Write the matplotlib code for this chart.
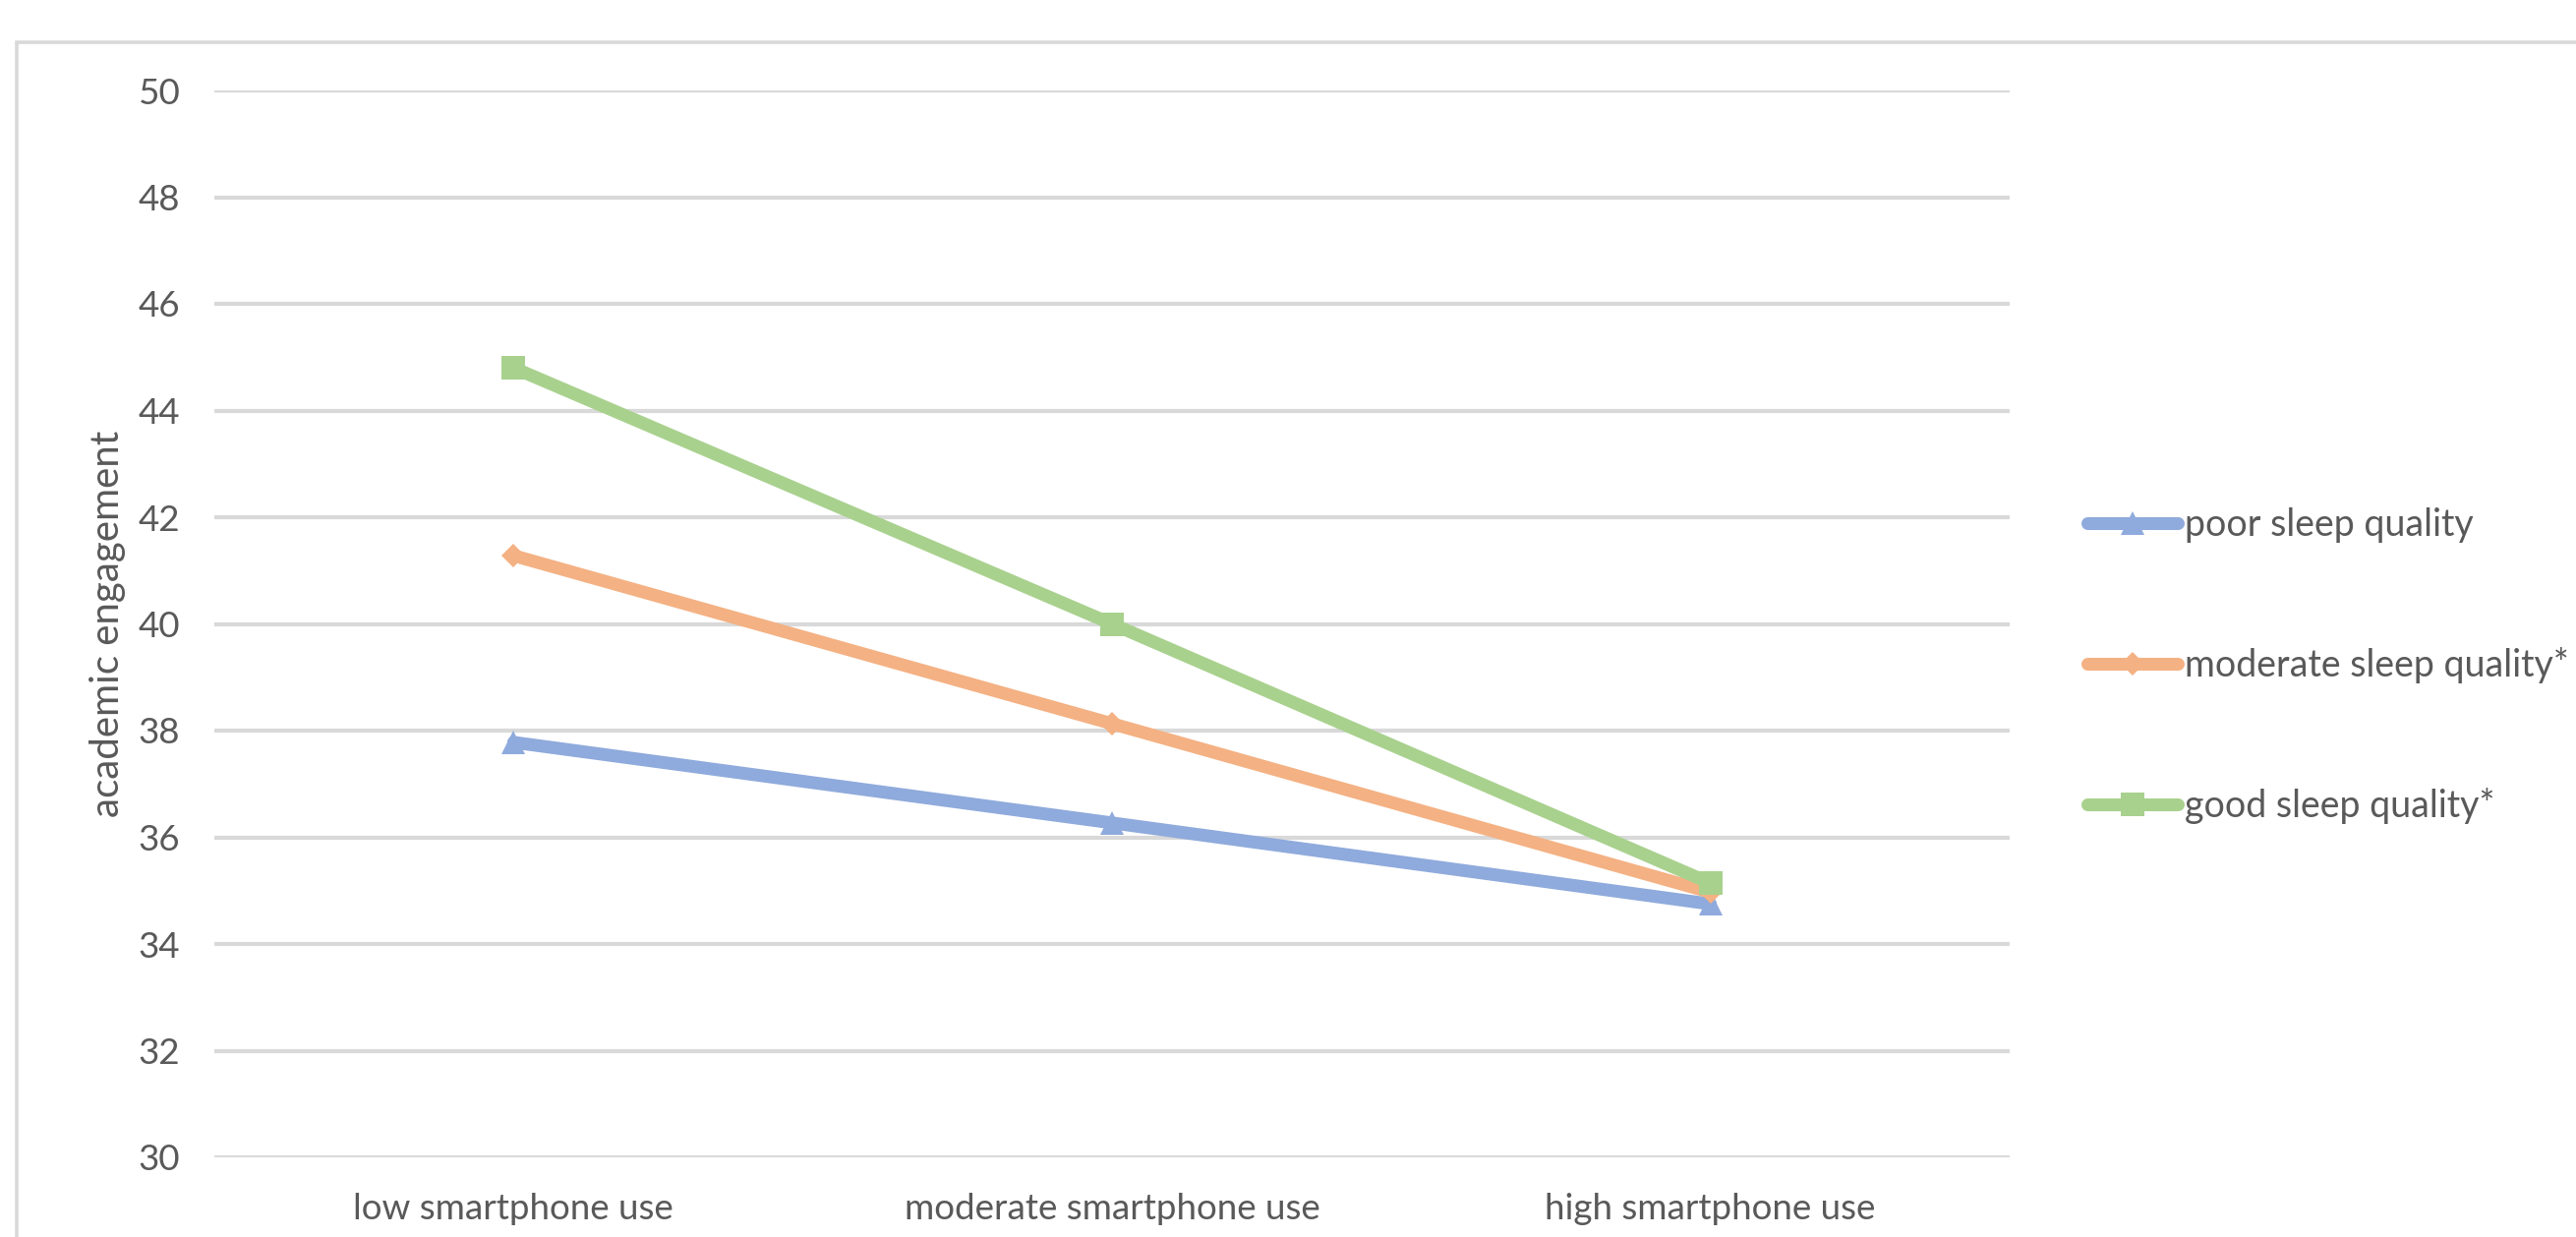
import matplotlib
matplotlib.use('Agg')
import matplotlib.pyplot as plt
from matplotlib.patches import Rectangle

plt.rcParams['font.family'] = ['Lato', 'DejaVu Sans']

# data
categories = ['low smartphone use', 'moderate smartphone use', 'high smartphone use']
poor_sleep = [37.78, 36.27, 34.75]
moderate_sleep = [41.28, 38.13, 34.97]
good_sleep = [44.80, 40.00, 35.14]
series_names = ['poor sleep quality', 'moderate sleep quality*', 'good sleep quality*']
y_ticks = [30, 32, 34, 36, 38, 40, 42, 44, 46, 48, 50]

W, H = 2620, 1258
fig = plt.figure(figsize=(W / 100, H / 100), dpi=100)

# outer chart frame (only top and left edges are inside the canvas)
fig.patches.append(Rectangle((17 / W, -0.5), 2.0, 0.5 + (1 - 43 / H),
                             transform=fig.transFigure, fill=False,
                             edgecolor='#d9d9d9', linewidth=2.6, zorder=0))

ax = fig.add_axes([218 / W, 81 / H, (2044 - 218) / W, (1177 - 92) / H])
x = list(range(len(categories)))

styles = [
    (poor_sleep, '#8faadc', '^', 17.0),
    (moderate_sleep, '#f4b183', 'D', 12.5),
    (good_sleep, '#a9d18e', 's', 17.5),
]
for (vals, col, mk, ms), name in zip(styles, series_names):
    ax.plot(x, vals, color=col, linewidth=9.4, marker=mk, markersize=ms,
            markerfacecolor=col, markeredgecolor=col, markeredgewidth=0,
            solid_capstyle='round', solid_joinstyle='round', label=name, zorder=3)

ax.set_xlim(-0.5, 2.5)
ax.set_ylim(30, 50)
ax.set_yticks(y_ticks)
ax.set_xticks(x)
ax.set_xticklabels(categories)
ax.tick_params(axis='both', length=0, labelsize=26.5, labelcolor='#595959')
ax.tick_params(axis='y', pad=25)
ax.tick_params(axis='x', pad=26)
ax.yaxis.grid(True, color='#d9d9d9', linewidth=3.0)
ax.set_axisbelow(True)
for s in ax.spines.values():
    s.set_visible(False)

fig.text(110 / W, 1 - 634 / H, 'academic engagement', rotation=90,
         ha='center', va='center', fontsize=29, color='#595959')

ax.legend(loc='center left', bbox_to_anchor=(2123 / W, 1 - 677 / H),
          bbox_transform=fig.transFigure, frameon=False, fontsize=27,
          labelcolor='#595959', handlelength=2.45, handletextpad=0.18,
          labelspacing=2.83, borderpad=0, borderaxespad=0)

fig.savefig('out.png', dpi=100)
